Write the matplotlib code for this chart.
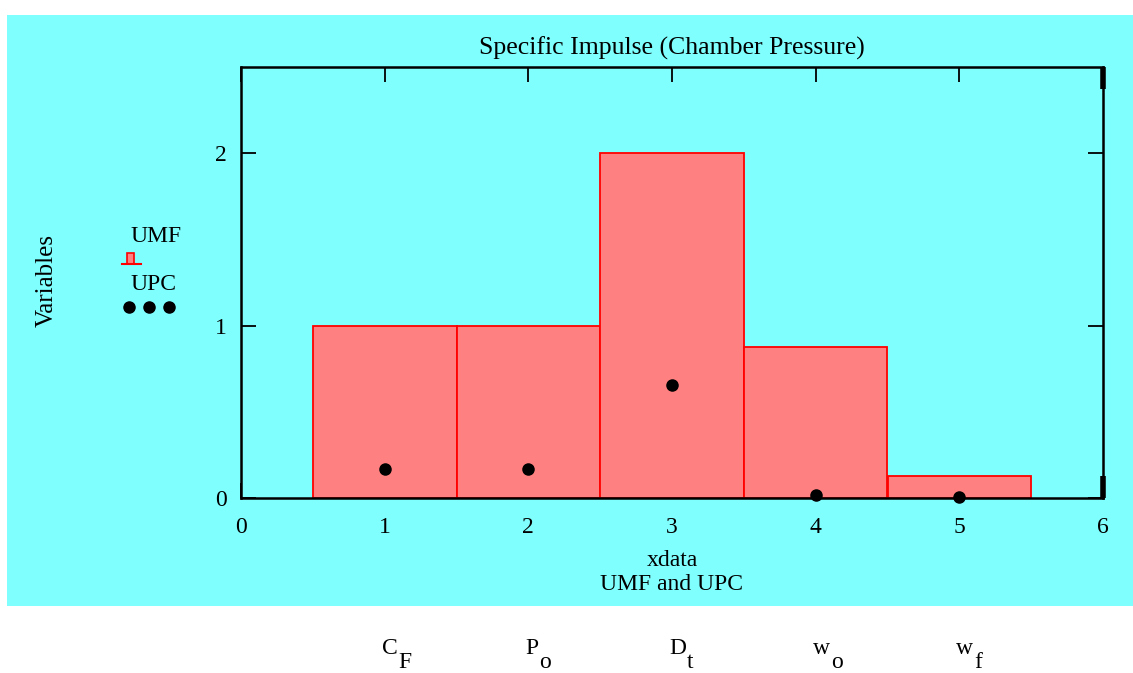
import matplotlib
matplotlib.use("Agg")
import matplotlib.pyplot as plt
from matplotlib.patches import Rectangle
from matplotlib.lines import Line2D
from matplotlib.transforms import offset_copy

plt.rcParams['font.family'] = ['Liberation Serif', 'DejaVu Serif']

xdata = [1, 2, 3, 4, 5]
umf = [1.0, 1.0, 2.0, 0.875, 0.125]
upc = [0.168, 0.168, 0.655, 0.017, 0.006]
var_main = ["C", "P", "D", "w", "w"]
var_sub = ["F", "o", "t", "o", "f"]
xticks = [0, 1, 2, 3, 4, 5, 6]
yticks = [0, 1, 2]

W, H = 1133, 673
FS = 17
fig = plt.figure(figsize=(W / 100, H / 100), dpi=100, facecolor="white")
cyan = "#80FFFF"
fig.patches.append(Rectangle((7 / W, (H - 606) / H), 1 - 7 / W, (606 - 15) / H,
                             transform=fig.transFigure, facecolor=cyan, edgecolor="none", zorder=-5))

ax = fig.add_axes([241 / W, (H - 498) / H, (1103 - 241) / W, (498 - 67) / H])
ax.set_facecolor(cyan)
ax.bar(xdata, umf, width=1.0, color="#FF8080", edgecolor="red", linewidth=1.3, zorder=2)
ax.plot(xdata, upc, 'o', color="black", markersize=8, zorder=3, clip_on=False)

ax.set_xlim(0, 6)
ax.set_ylim(0, 2.5)
ax.set_xticks(xticks)
ax.set_yticks(yticks)
ax.tick_params(direction="in", length=11, width=1.3, labelsize=FS, top=True, right=True,
               colors="black")
ax.tick_params(axis="x", pad=14)
ax.tick_params(axis="y", pad=10)
last = ax.xaxis.get_major_ticks()[-1]
last.tick1line.set_markeredgewidth(4)
last.tick2line.set_markeredgewidth(4)
last.tick1line.set_markersize(16)
last.tick2line.set_markersize(16)
for s in ax.spines.values():
    s.set_linewidth(1.8)
    s.set_color("black")

ax.set_title("Specific Impulse (Chamber Pressure)", fontsize=18.5, pad=9)
fig.text(47 / W, 1 - 280 / H, "Variables", rotation=90, ha="center", va="center", fontsize=18)
fig.text(672 / W, 1 - 560 / H, "xdata", ha="center", va="center", fontsize=FS)
fig.text(672 / W, 1 - 585 / H, "UMF and UPC", ha="center", va="center", fontsize=FS)

# legend
fig.text(130 / W, 1 - 236 / H, "UMF", ha="left", va="center", fontsize=FS)
fig.patches.append(Rectangle((127 / W, 1 - 264 / H), 7 / W, 11 / H, transform=fig.transFigure,
                             facecolor="#FF8080", edgecolor="red", linewidth=1.2, zorder=3))
fig.lines.append(Line2D([122 / W, 141 / W], [1 - 264 / H, 1 - 264 / H], transform=fig.transFigure,
                        color="red", linewidth=1.5, zorder=4))
fig.text(130 / W, 1 - 284 / H, "UPC", ha="left", va="center", fontsize=FS)
fig.lines.append(Line2D([129 / W, 149 / W, 169 / W], [1 - 307 / H] * 3, transform=fig.transFigure,
                        linestyle="none", marker="o", markersize=8, color="black", zorder=4))

# variable labels below the panel
fig.canvas.draw()
renderer = fig.canvas.get_renderer()
blend = matplotlib.transforms.blended_transform_factory(ax.transData, fig.transFigure)
for xv, m, sb in zip(xdata, var_main, var_sub):
    t = fig.text(xv, 1 - 649 / H, m, ha="left", va="center", fontsize=FS,
                 transform=offset_copy(blend, fig=fig, x=-3, y=0, units="dots"))
    bb = t.get_window_extent(renderer)
    w = bb.width
    fig.text(xv, 1 - 662 / H, sb, ha="left", va="center", fontsize=FS,
             transform=offset_copy(blend, fig=fig, x=-3 + w + 1, y=0, units="dots"))

fig.savefig("out.png", dpi=100, facecolor="white")
